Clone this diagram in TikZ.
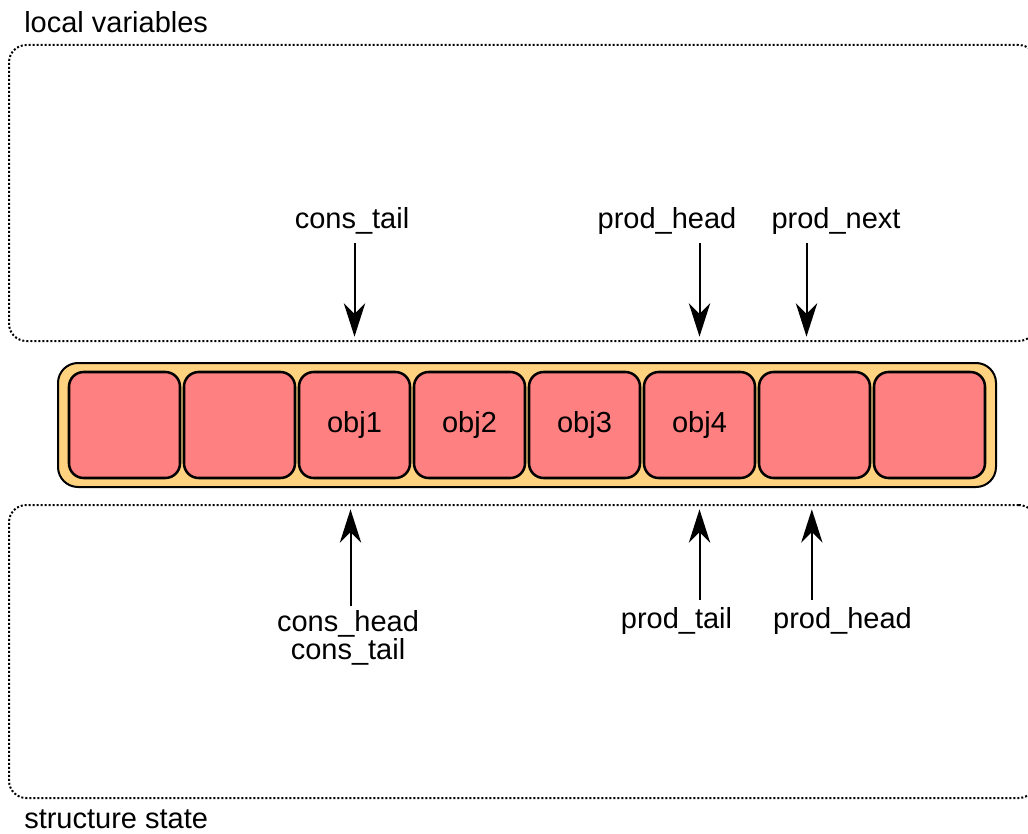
\documentclass[tikz,border=0pt]{standalone}
\usepackage{fontspec}
\setmainfont{Liberation Sans}
\usetikzlibrary{arrows.meta}

\definecolor{slotred}{HTML}{FF8080}
\definecolor{ringorange}{HTML}{FFD27F}

\tikzset{
    txt/.style={font=\fontsize{21.75pt}{21pt}\selectfont},
    lbl/.style={txt, inner sep=0pt},
    area/.style={draw, line width=1.5pt, dash pattern=on 1.5pt off 1.5pt, rounded corners=13pt, inner sep=0pt},
    ring/.style={draw, line width=1.5pt, fill=ringorange, rounded corners=15pt, minimum width=703.5pt, minimum height=93pt},
    slot/.style={txt, draw, line width=1.9pt, fill=slotred, rounded corners=11pt, minimum width=83.25pt, minimum height=79.5pt, inner sep=0pt},
    ptr/.style={line width=1.5pt, -{Stealth[length=25pt, width=16pt, inset=8pt]}, shorten >=4pt}
}

\begin{document}
\begin{tikzpicture}[x=0.75pt, y=-0.75pt]
    \useasboundingbox (0, 0) rectangle (1028, 834);
    \clip (0, 0) rectangle (1028, 834);

    \node[area, minimum width=770.25pt, minimum height=222pt] (locals) at (522.5, 193) {};
    \node[area, minimum width=770.25pt, minimum height=219.75pt] (state) at (522.5, 651.5) {};
    \node[lbl, anchor=base west] (locals-t) at (24, 33) {local variables};
    \node[lbl, anchor=base west] (state-t) at (24, 828) {structure state};

    \node[ring] (ring) at (527, 425) {};
    \foreach \obj [count=\i] in {{}, {}, obj1, obj2, obj3, obj4, {}, {}}
        \node[slot] (slot\i) at ({124.5 + 115*(\i-1)}, 425) {\obj};

    \node[lbl, anchor=base] (ct) at (352, 229) {cons\_tail};
    \node[lbl, anchor=base] (ph) at (667, 229) {prod\_head};
    \node[lbl, anchor=base] (pn) at (836, 229) {prod\_next};

    \draw[ptr, shorten <=6pt] (slot3 |- ct.south) -- (slot3 |- locals.south);
    \draw[ptr, shorten <=6pt] (slot6 |- ph.south) -- (slot6 |- locals.south);
    \draw[ptr, shorten <=6pt] ([xshift=-6pt]slot7.center |- pn.south) -- ([xshift=-6pt]slot7.center |- locals.south);

    \node[lbl, anchor=base, align=center] (ch) at (348, 659) {cons\_head\\cons\_tail};
    \node[lbl, anchor=base] (pt) at (676.5, 628) {prod\_tail};
    \node[lbl, anchor=base] (ph2) at (842.5, 628) {prod\_head};

    \draw[ptr, shorten <=3pt] ([xshift=-3pt]slot3.center |- ch.north) -- ([xshift=-3pt]slot3.center |- state.north);
    \draw[ptr, shorten <=5pt] (slot6 |- pt.north) -- (slot6 |- state.north);
    \draw[ptr, shorten <=5pt] ([xshift=-2pt]slot7.center |- ph2.north) -- ([xshift=-2pt]slot7.center |- state.north);
\end{tikzpicture}
\end{document}
